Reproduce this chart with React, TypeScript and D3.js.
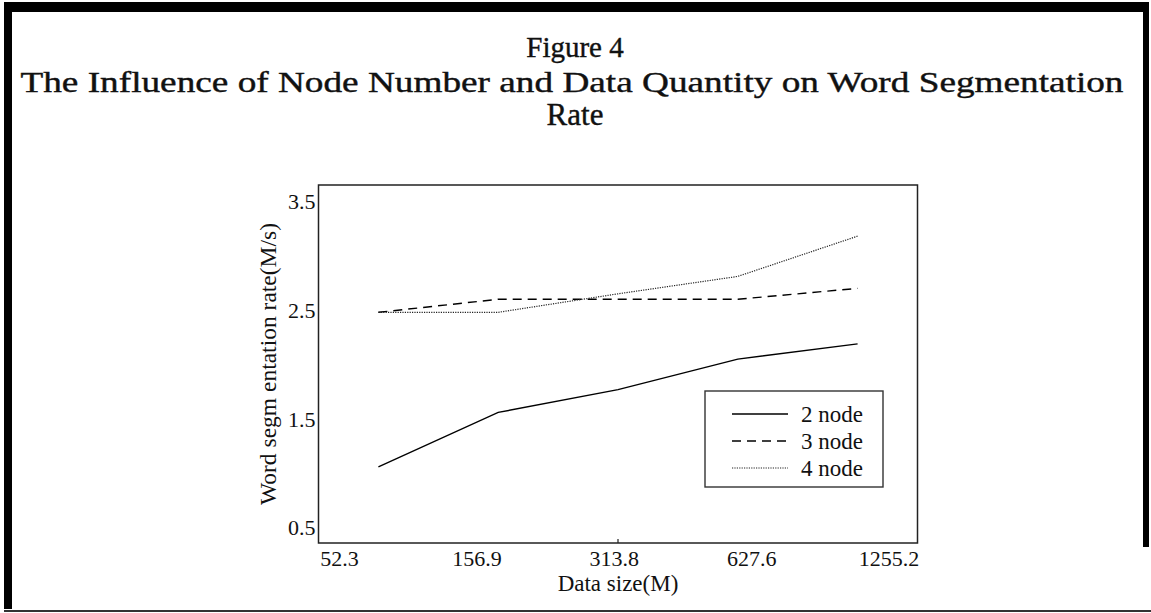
import React, { useEffect, useRef } from 'react';
import * as d3 from 'd3';

// x categories (data size) and y tick values
const dataSizes = ['52.3', '156.9', '313.8', '627.6', '1255.2'];
const yTicks = [0.5, 1.5, 2.5, 3.5];

// word segmentation rate (M/s) per node count
const node2 = [1.06, 1.56, 1.77, 2.05, 2.19];
const node3 = [2.48, 2.6, 2.6, 2.6, 2.7];
const node4 = [2.48, 2.48, 2.65, 2.81, 3.18];
const seriesNames = ['2 node', '3 node', '4 node'];

const W = 1151;
const H = 613;

const App = () => {
  const ref = useRef(null);

  useEffect(() => {
    const svg = d3.select(ref.current);
    svg.selectAll('*').remove();

    const left = 318.5, right = 917.5, top = 185, bottom = 543;
    const serif = '"Liberation Serif", "Times New Roman", serif';

    // page frame: thick black top/left/right, thin grey bottom
    svg.append('rect').attr('x', 4).attr('y', 2).attr('width', W - 8).attr('height', 10).attr('fill', '#000');
    svg.append('rect').attr('x', 4).attr('y', 2).attr('width', 8).attr('height', 607).attr('fill', '#000');
    svg.append('rect').attr('x', W - 8).attr('y', 2).attr('width', 6).attr('height', 545).attr('fill', '#000');
    svg.append('line').attr('x1', 4).attr('x2', W).attr('y1', 611).attr('y2', 611)
      .attr('stroke', '#333').attr('stroke-width', 2);

    // title (slightly heavier than regular)
    const title = svg.append('g').attr('font-family', serif).attr('fill', '#111')
      .attr('stroke', '#111').attr('stroke-width', 0.4).attr('text-anchor', 'middle');
    title.append('text').attr('x', 575).attr('y', 57).attr('font-size', 29).text('Figure 4');
    title.append('text').attr('x', 572).attr('y', 92).attr('font-size', 30)
      .attr('textLength', 1103).attr('lengthAdjust', 'spacingAndGlyphs')
      .text('The Influence of Node Number and Data Quantity on Word Segmentation');
    title.append('text').attr('x', 575).attr('y', 125).attr('font-size', 31).text('Rate');

    // scales
    const x = d3.scaleLinear().domain([0.5, 5.5]).range([left, right]);
    const xLabel = d3.scalePoint().domain(dataSizes).range([339.5, 889]);
    const y = d3.scaleLinear().domain([0.36, 3.65]).range([bottom, top]);

    // plot frame
    svg.append('rect').attr('x', left).attr('y', top)
      .attr('width', right - left).attr('height', bottom - top)
      .attr('fill', 'none').attr('stroke', '#222').attr('stroke-width', 1.5);

    // single middle tick on x axis
    svg.append('line').attr('x1', x(3)).attr('x2', x(3))
      .attr('y1', bottom).attr('y2', bottom - 4).attr('stroke', '#222').attr('stroke-width', 1.2);

    const axis = svg.append('g').attr('font-family', serif).attr('fill', '#111');

    axis.selectAll('.ytick').data(yTicks).join('text')
      .attr('x', left - 3).attr('y', (d) => y(d)).attr('dy', '0.35em')
      .attr('text-anchor', 'end').attr('font-size', 22)
      .text((d) => d.toFixed(1));

    axis.selectAll('.xtick').data(dataSizes).join('text')
      .attr('x', (d) => xLabel(d)).attr('y', 566)
      .attr('text-anchor', 'middle').attr('font-size', 22)
      .text((d) => d);

    axis.append('text').attr('x', (left + right) / 2).attr('y', 591)
      .attr('text-anchor', 'middle').attr('font-size', 23).text('Data size(M)');

    axis.append('text')
      .attr('transform', `translate(268, ${(top + bottom) / 2}) rotate(-90)`)
      .attr('dy', '0.35em').attr('text-anchor', 'middle').attr('font-size', 23.5)
      .text('Word segm entation rate(M/s)');

    // lines
    const series = [
      { name: seriesNames[0], values: node2, dash: null, color: '#000', width: 1.4 },
      { name: seriesNames[1], values: node3, dash: '9,6', color: '#000', width: 1.4 },
      { name: seriesNames[2], values: node4, dash: '1.2,1.2', color: '#222', width: 1.2 },
    ];

    const line = d3.line()
      .x((d, i) => x(i + 1))
      .y((d) => y(d));

    svg.selectAll('.series').data(series).join('path')
      .attr('fill', 'none')
      .attr('stroke', (d) => d.color)
      .attr('stroke-width', (d) => d.width)
      .attr('stroke-dasharray', (d) => d.dash)
      .attr('d', (d) => line(d.values));

    // legend
    const lg = svg.append('g');
    lg.append('rect').attr('x', 705).attr('y', 391).attr('width', 178).attr('height', 96)
      .attr('fill', '#fff').attr('stroke', '#333').attr('stroke-width', 1.4);
    const rows = lg.selectAll('.row').data(series).join('g')
      .attr('transform', (d, i) => `translate(0, ${414 + i * 27})`);
    rows.append('line').attr('x1', 732).attr('x2', 788).attr('y1', 0).attr('y2', 0)
      .attr('stroke', (d) => d.color).attr('stroke-width', (d) => d.width)
      .attr('stroke-dasharray', (d) => d.dash);
    rows.append('text').attr('x', 801).attr('dy', '0.35em')
      .attr('font-family', serif).attr('font-size', 23).attr('fill', '#111')
      .text((d) => d.name);
  }, []);

  return (
    <div>
      <svg ref={ref} width={W} height={H}
        style={{ position: 'absolute', left: 0, top: 0, background: '#fff' }}></svg>
    </div>
  );
};

export default App;
